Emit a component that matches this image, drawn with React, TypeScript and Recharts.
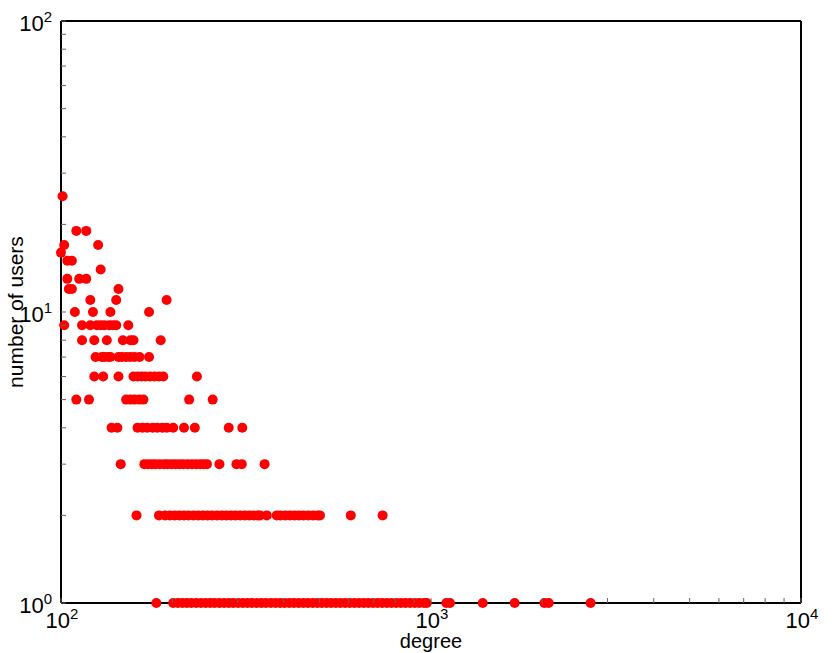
import React from "react";
import { ScatterChart, Scatter, XAxis, YAxis } from "recharts";

// degree values, one list per "number of users" level
const DEG_USERS_1 = [
  181, 201, 207, 213, 219, 225, 232, 239, 246, 253, 260, 268, 276, 284, 292, 301,
  310, 319, 328, 338, 348, 358, 369, 380, 391, 402, 414, 426, 439, 452, 465, 479,
  493, 507, 522, 537, 553, 569, 586, 603, 621, 639, 658, 677, 697, 717, 738, 760,
  782, 805, 829, 853, 878, 904, 930, 957, 974, 1100, 1125, 1380, 1683, 2025, 2080, 2700,
];
const DEG_USERS_2 = [
  160, 184, 191, 197, 203, 209, 215, 221, 228, 235, 242, 249, 256, 264, 272, 280,
  288, 296, 305, 314, 323, 332, 340, 345, 360, 383, 392, 404, 416, 428, 440, 452,
  466, 480, 494, 501, 607, 740,
];
const DEG_USERS_3 = [
  145, 168, 172, 176, 180, 185, 190, 194, 199, 204, 209, 214, 220, 226, 232, 238,
  243, 248, 268, 298, 308, 355,
];
const DEG_USERS_4 = [137, 142, 161, 166, 171, 177, 182, 188, 193, 201, 215, 230, 284, 309];
const DEG_USERS_5 = [110, 119, 150, 154, 158, 163, 167, 222, 257];
const DEG_USERS_6 = [123, 130, 143, 157, 161, 165, 169, 174, 179, 184, 189, 233];
const DEG_USERS_7 = [124, 129, 131, 134, 136, 143, 146, 150, 154, 158, 163, 173];
const DEG_USERS_8 = [114, 123, 133, 147, 154, 157, 186];
const DEG_USERS_9 = [102, 114, 120, 125, 128, 131, 135, 138, 141, 152];
const DEG_USERS_10 = [109, 122, 136, 173];
const DEG_USERS_11 = [120, 141, 193];
const DEG_USERS_12 = [105, 107, 143];
const DEG_USERS_13 = [104, 112, 117];
const DEG_USERS_14 = [128];
const DEG_USERS_15 = [104, 107];
const DEG_USERS_16 = [100];
const DEG_USERS_17 = [102, 126];
const DEG_USERS_19 = [110, 117];
const DEG_USERS_25 = [101];

const LEVELS: [number, number[]][] = [
  [1, DEG_USERS_1], [2, DEG_USERS_2], [3, DEG_USERS_3], [4, DEG_USERS_4],
  [5, DEG_USERS_5], [6, DEG_USERS_6], [7, DEG_USERS_7], [8, DEG_USERS_8],
  [9, DEG_USERS_9], [10, DEG_USERS_10], [11, DEG_USERS_11], [12, DEG_USERS_12],
  [13, DEG_USERS_13], [14, DEG_USERS_14], [15, DEG_USERS_15], [16, DEG_USERS_16],
  [17, DEG_USERS_17], [19, DEG_USERS_19], [25, DEG_USERS_25],
];

const X_TICKS = [
  100, 200, 300, 400, 500, 600, 700, 800, 900,
  1000, 2000, 3000, 4000, 5000, 6000, 7000, 8000, 9000, 10000,
];
const Y_TICKS = [1, 2, 3, 4, 5, 6, 7, 8, 9, 10, 20, 30, 40, 50, 60, 70, 80, 90, 100];

const data = LEVELS.flatMap(([users, degs]) => degs.map((degree) => ({ degree, users })));

const FONT = '"Liberation Sans", Arial, Helvetica, sans-serif';
const TICK_COLOR = "#666";
const TICK_LEN = 5;
const AXIS_LINE = { stroke: "#000", strokeWidth: 2 };

const exponentOf = (v: number) => {
  const e = Math.log10(v);
  return Math.abs(e - Math.round(e)) < 1e-9 ? Math.round(e) : null;
};

function Power({ x, y, exp, anchor }: { x: number; y: number; exp: number; anchor: string }) {
  return (
    <text x={x} y={y} textAnchor={anchor} fontSize={22} fontFamily={FONT} fill="#000">
      <tspan>10</tspan>
      <tspan dy={-9} fontSize={15}>{exp}</tspan>
    </text>
  );
}

function Tick(props: any) {
  const { x, y, payload, side } = props;
  const exp = exponentOf(payload.value);
  if (side === "bottom") {
    return (
      <g>
        <line x1={x} y1={y} x2={x} y2={y - TICK_LEN} stroke={TICK_COLOR} />
        {exp !== null && <Power x={x + 1} y={y + 25} exp={exp} anchor="middle" />}
      </g>
    );
  }
  if (side === "top") {
    return <line x1={x} y1={y} x2={x} y2={y + TICK_LEN} stroke={TICK_COLOR} />;
  }
  if (side === "left") {
    return (
      <g>
        <line x1={x} y1={y} x2={x + TICK_LEN} y2={y} stroke={TICK_COLOR} />
        {exp !== null && <Power x={x - 9} y={y + 10} exp={exp} anchor="end" />}
      </g>
    );
  }
  return <line x1={x} y1={y} x2={x - TICK_LEN} y2={y} stroke={TICK_COLOR} />;
}

const Dot = (p: any) => <circle cx={p.cx} cy={p.cy} r={5} fill="#ff0000" />;

export default function App() {
  return (
    <div style={{ position: "absolute", left: 0, top: 0 }}>
      <ScatterChart width={832} height={653} margin={{ top: 0, right: 0, bottom: 0, left: 0 }}>
        <XAxis
          xAxisId="bottom"
          dataKey="degree"
          type="number"
          scale="log"
          domain={[100, 10000]}
          ticks={X_TICKS}
          interval={0}
          height={50}
          tickSize={0}
          tickMargin={0}
          tickLine={false}
          axisLine={AXIS_LINE}
          tick={(p: any) => <Tick {...p} side="bottom" />}
          label={{
            content: () => (
              <text x={431} y={648} textAnchor="middle" fontSize={20} fontFamily={FONT} fill="#000">
                degree
              </text>
            ),
          }}
        />
        <XAxis
          xAxisId="top"
          orientation="top"
          type="number"
          scale="log"
          domain={[100, 10000]}
          ticks={X_TICKS}
          interval={0}
          height={21}
          tickSize={0}
          tickMargin={0}
          tickLine={false}
          axisLine={AXIS_LINE}
          tick={(p: any) => <Tick {...p} side="top" />}
        />
        <YAxis
          yAxisId="left"
          dataKey="users"
          type="number"
          scale="log"
          domain={[1, 100]}
          ticks={Y_TICKS}
          interval={0}
          width={61}
          tickSize={0}
          tickMargin={0}
          tickLine={false}
          axisLine={AXIS_LINE}
          tick={(p: any) => <Tick {...p} side="left" />}
          label={{
            content: () => (
              <text
                x={23}
                y={312}
                transform="rotate(-90, 23, 312)"
                textAnchor="middle"
                fontSize={21}
                fontFamily={FONT}
                fill="#000"
              >
                number of users
              </text>
            ),
          }}
        />
        <YAxis
          yAxisId="right"
          orientation="right"
          type="number"
          scale="log"
          domain={[1, 100]}
          ticks={Y_TICKS}
          interval={0}
          width={31}
          tickSize={0}
          tickMargin={0}
          tickLine={false}
          axisLine={AXIS_LINE}
          tick={(p: any) => <Tick {...p} side="right" />}
        />
        <Scatter
          data={data}
          xAxisId="bottom"
          yAxisId="left"
          dataKey="users"
          shape={Dot}
          isAnimationActive={false}
        />
      </ScatterChart>
    </div>
  );
}
